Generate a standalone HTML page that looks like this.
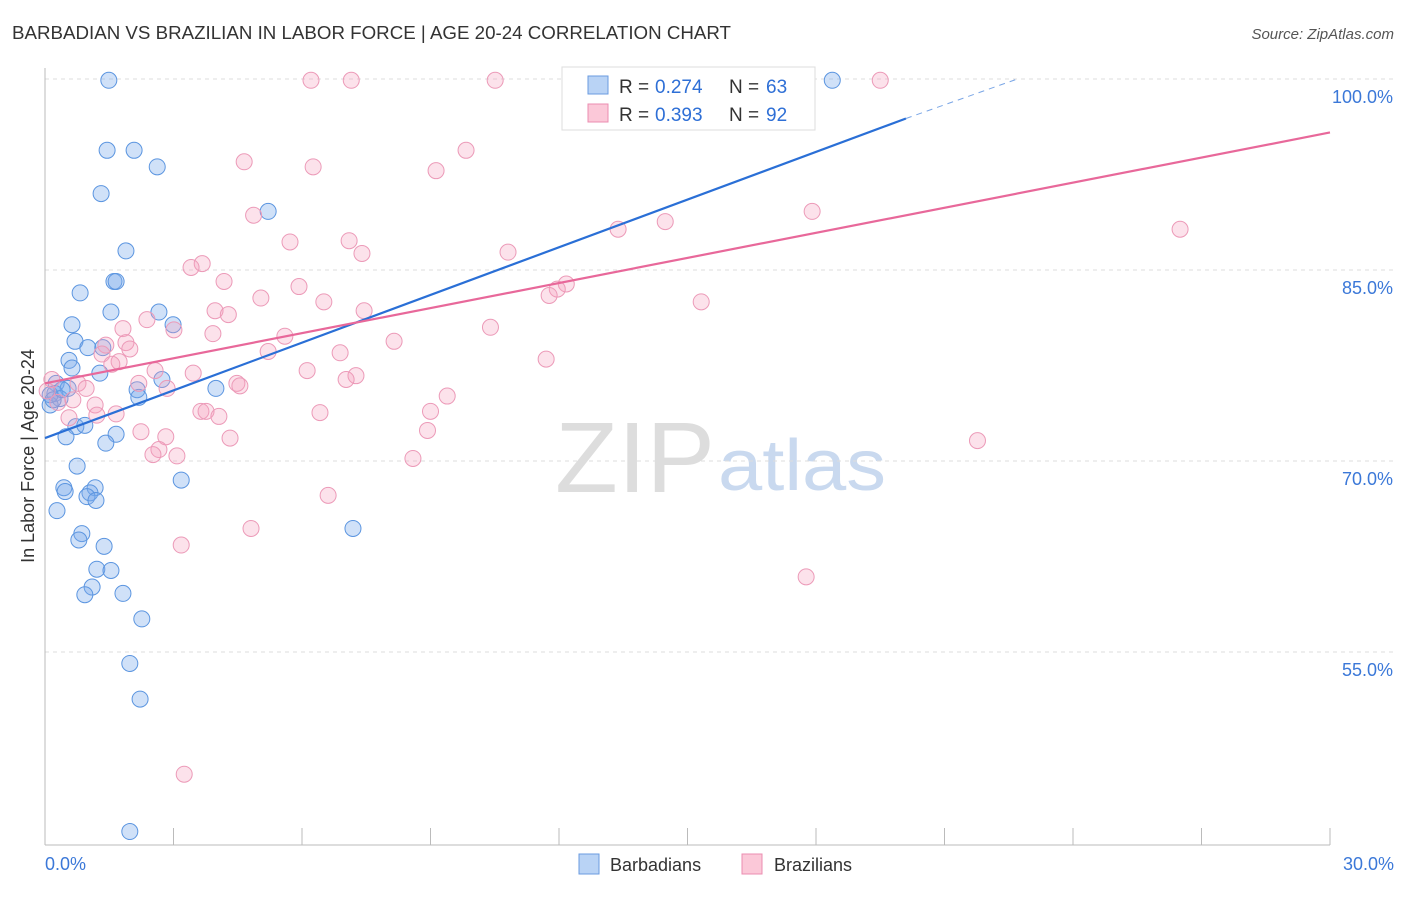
<!DOCTYPE html>
<html><head><meta charset="utf-8"><style>
body{margin:0;background:#fff;font-family:"Liberation Sans",sans-serif}
svg text{font-family:"Liberation Sans",sans-serif}
</style></head><body>
<svg id="chart" width="1406" height="892" viewBox="0 0 1406 892" xmlns="http://www.w3.org/2000/svg">
<text x="12" y="39" font-size="18" fill="#333" textLength="719" lengthAdjust="spacingAndGlyphs">BARBADIAN VS BRAZILIAN IN LABOR FORCE | AGE 20-24 CORRELATION CHART</text>
<text x="1394" y="39" font-size="15" fill="#555" font-style="italic" text-anchor="end">Source: ZipAtlas.com</text>
<text x="555" y="492" font-size="100" fill="#ddd" font-family="Liberation Serif" textLength="160" lengthAdjust="spacingAndGlyphs">ZIP</text>
<text x="718" y="490" font-size="72" fill="#c9d9ef" textLength="168" lengthAdjust="spacingAndGlyphs">atlas</text>
<g id="grid"></g><g id="axes"></g><g id="pts"></g><g id="lines"></g>
<text transform="translate(34,456) rotate(-90)" font-size="18" fill="#333" text-anchor="middle">In Labor Force | Age 20-24</text>
<g>
<rect x="562" y="67" width="253" height="63" fill="#fff" stroke="#ddd"/>
<rect x="588" y="76" width="20" height="18" fill="#b9d3f5" stroke="#6a9be0"/>
<rect x="588" y="104" width="20" height="18" fill="#fbc8d8" stroke="#eb8db0"/>
<text x="619" y="93" font-size="19" fill="#333">R =</text><text x="655" y="93" font-size="19" fill="#2e6fd6">0.274</text>
<text x="729" y="93" font-size="19" fill="#333">N =</text><text x="766" y="93" font-size="19" fill="#2e6fd6">63</text>
<text x="619" y="121" font-size="19" fill="#333">R =</text><text x="655" y="121" font-size="19" fill="#2e6fd6">0.393</text>
<text x="729" y="121" font-size="19" fill="#333">N =</text><text x="766" y="121" font-size="19" fill="#2e6fd6">92</text>
</g>
<g>
<rect x="579" y="854" width="20" height="20" fill="#b9d3f5" stroke="#6a9be0"/>
<text x="610" y="871" font-size="18" fill="#333">Barbadians</text>
<rect x="742" y="854" width="20" height="20" fill="#fbc8d8" stroke="#eb8db0"/>
<text x="774" y="871" font-size="18" fill="#333">Brazilians</text>
</g>
</svg>
<script>
const yTicks=[100,85,70,55];
const xTickLabels=["0.0%","30.0%"];
const blueX=[1.49,1.45,2.08,1.31,2.62,5.21,1.89,1.61,1.66,0.82,1.54,2.66,2.99,0.63,0.70,1.00,1.35,0.56,0.63,1.28,2.73,3.99,0.26,0.54,0.23,0.35,0.12,2.15,2.19,0.72,0.93,0.49,1.66,1.42,0.75,3.18,0.44,0.47,1.17,1.05,0.98,1.19,0.28,0.86,0.79,1.38,7.19,1.21,1.54,1.10,0.93,1.82,2.26,1.98,2.22,1.98,18.38,0.12,0.19,0.40];
const blueY=[99.9,94.4,94.4,91.0,93.1,89.6,86.5,84.1,84.1,83.2,81.7,81.7,80.7,80.7,79.4,78.9,78.9,77.9,77.3,76.9,76.4,75.7,76.1,75.7,75.3,74.9,74.4,75.6,75.0,72.7,72.8,71.9,72.1,71.4,69.6,68.5,67.9,67.6,67.9,67.5,67.2,66.9,66.1,64.3,63.8,63.3,64.7,61.5,61.4,60.1,59.5,59.6,57.6,54.1,51.3,40.9,99.9,75.2,74.8,75.6];
const pinkX=[6.21,7.15,10.51,15.76,19.50,4.65,6.26,9.13,9.83,4.87,17.91,14.48,13.38,26.50,5.72,7.10,7.40,10.81,3.67,3.41,4.18,5.93,5.04,6.51,12.17,11.96,11.77,15.32,3.97,4.28,7.45,2.38,1.82,3.01,3.92,5.60,10.40,8.15,1.89,1.42,1.98,1.33,5.21,6.89,1.73,1.56,11.70,6.12,2.57,3.46,7.26,7.03,2.19,2.85,4.48,4.55,0.77,0.96,9.39,0.30,0.65,1.17,3.64,3.76,4.06,6.42,9.0,1.66,1.21,0.56,2.24,8.93,2.82,4.32,21.77,2.66,2.52,3.08,8.59,6.61,4.81,3.18,17.77,3.25,0.16,0.05];
const pinkY=[99.9,99.9,99.9,99.9,99.9,93.5,93.1,92.8,94.4,89.3,89.6,88.8,88.2,88.2,87.2,87.3,86.3,86.4,85.5,85.2,84.1,83.7,82.8,82.5,83.9,83.5,83.0,82.5,81.8,81.5,81.8,81.1,80.4,80.3,80.0,79.8,80.5,79.4,79.3,79.1,78.8,78.4,78.6,78.5,77.8,77.6,78.0,77.1,77.1,76.9,76.7,76.4,76.1,75.7,76.1,75.9,76.1,75.7,75.1,74.6,74.8,74.4,73.9,73.9,73.5,73.8,73.9,73.7,73.6,73.4,72.3,72.4,71.9,71.8,71.6,70.9,70.5,70.4,70.2,67.3,64.7,63.4,60.9,45.4,76.4,75.5];
const blueTrend=[0,71.8,20.1,96.9];const blueDash=[20.1,96.9,22.7,100];
const pinkTrend=[0,76.1,30,95.8];
const X=v=>45+v/30*1285, Y=v=>79+(100-v)*191/15;
const NS="http://www.w3.org/2000/svg";
function mk(t,a,p){const e=document.createElementNS(NS,t);for(const k in a)e.setAttribute(k,a[k]);p.appendChild(e);return e;}
const grid=document.getElementById('grid'),axes=document.getElementById('axes'),pts=document.getElementById('pts'),lines=document.getElementById('lines');
yTicks.forEach(v=>{const l=mk('line',{x1:45,x2:1395,y1:Y(v),y2:Y(v),stroke:'#ddd','stroke-dasharray':'4,4'},grid);


const t=mk('text',{x:1393,y:Y(v)+24,'font-size':18,fill:'#3b78d8','text-anchor':'end'},grid);t.textContent=v.toFixed(1)+'%';

});
const ax=mk('line',{x1:45,x2:45,y1:68,y2:845,stroke:'#bbb'},axes);


const bx=mk('line',{x1:45,x2:1330,y1:845,y2:845,stroke:'#bbb'},axes);


for(let i=0;i<=10;i++){const t=mk('line',{x1:X(i*3),x2:X(i*3),y1:828,y2:845,stroke:'#bbb'},axes);

}
[[0,'start',45],[30,'end',1394]].forEach((d,i)=>{const t=mk('text',{x:d[2],y:870,'font-size':18,fill:'#3b78d8','text-anchor':d[1]},axes);t.textContent=xTickLabels[i];

});
blueX.forEach((x,i)=>{const c=mk('circle',{cx:X(x),cy:Y(blueY[i]),r:8,fill:'rgba(120,170,235,0.35)',stroke:'#5b95e0','stroke-width':1},pts);

});
pinkX.forEach((x,i)=>{const c=mk('circle',{cx:X(x),cy:Y(pinkY[i]),r:8,fill:'rgba(245,160,190,0.3)',stroke:'#ec9ab8','stroke-width':1},pts);

});
const bl=mk('line',{x1:X(blueTrend[0]),y1:Y(blueTrend[1]),x2:X(blueTrend[2]),y2:Y(blueTrend[3]),stroke:'#2a6fd6','stroke-width':2.2},lines);


const bd=mk('line',{x1:X(blueDash[0]),y1:Y(blueDash[1]),x2:X(blueDash[2]),y2:Y(blueDash[3]),stroke:'#7aa6e6','stroke-width':1,'stroke-dasharray':'6,5'},lines);


const pl=mk('line',{x1:X(pinkTrend[0]),y1:Y(pinkTrend[1]),x2:X(pinkTrend[2]),y2:Y(pinkTrend[3]),stroke:'#e8689a','stroke-width':2.2},lines);


</script>
</body></html>
